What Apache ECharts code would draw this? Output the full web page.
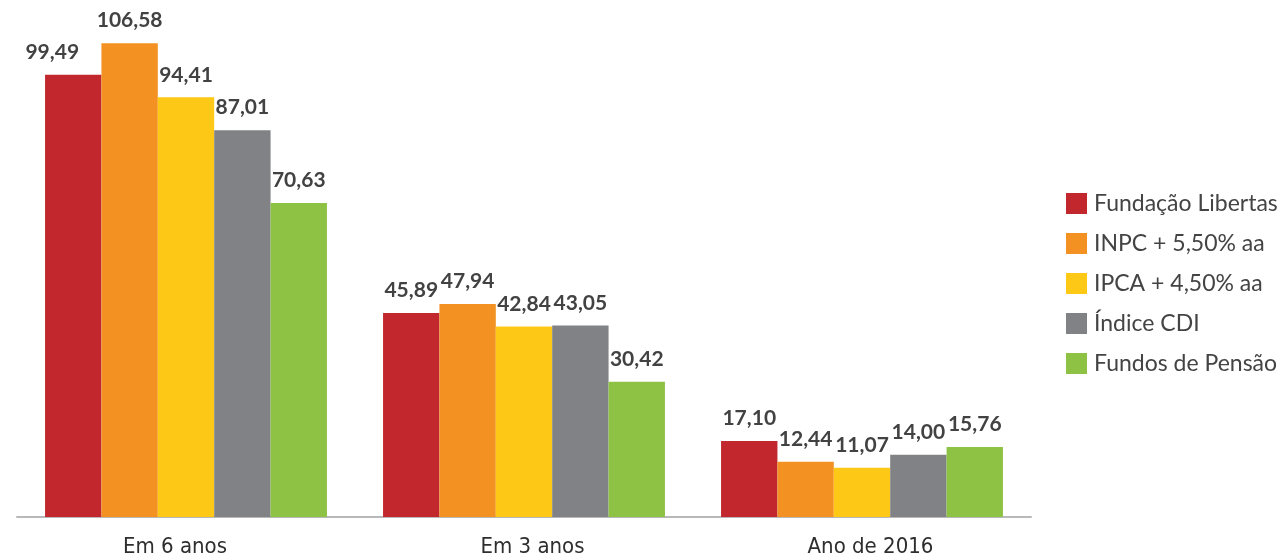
<!DOCTYPE html>
<html>
<head>
<meta charset="utf-8">
<script src="https://cdn.jsdelivr.net/npm/echarts@6/dist/echarts.min.js"></script>
<style>
  html, body { margin: 0; padding: 0; background: #fff; }
  #chart { width: 1288px; height: 558px; }
</style>
</head>
<body>
<div id="chart"></div>
<script>
const categories = ['Em 6 anos', 'Em 3 anos', 'Ano de 2016'];
const seriesNames = ['Fundação Libertas', 'INPC + 5,50% aa', 'IPCA + 4,50% aa', 'Índice CDI', 'Fundos de Pensão'];
const libertas = [99.49, 45.89, 17.10];
const inpc = [106.58, 47.94, 12.44];
const ipca = [94.41, 42.84, 11.07];
const cdi = [87.01, 43.05, 14.00];
const pensao = [70.63, 30.42, 15.76];
const colors = ['#c1272d', '#f39223', '#fdc816', '#808285', '#8dc245'];

const allValues = [libertas, inpc, ipca, cdi, pensao];

const myChart = echarts.init(document.getElementById('chart'));

const series = allValues.map((vals, i) => ({
  name: seriesNames[i],
  type: 'bar',
  // first label is nudged left in the original, to clear the taller orange one
  data: vals.map((v, j) => (i === 0 && j === 0) ? { value: v, label: { offset: [-21, 0] } } : v),
  barGap: 0,
  barCategoryGap: '16.6%',
  itemStyle: { color: colors[i] },
  label: {
    show: true,
    position: 'top',
    distance: 12,
    color: '#424242',
    fontFamily: 'Lato',
    fontWeight: 'bold',
    fontSize: 21,
    formatter: p => p.value.toFixed(2).replace('.', ',')
  }
}));

// category labels sit a bit off-centre in the original
const catRich = {
  l: { fontFamily: 'DejaVu Sans Condensed', fontSize: 22, color: '#2e2e2e', padding: [0, 22, 0, 0] },
  r: { fontFamily: 'DejaVu Sans Condensed', fontSize: 22, color: '#2e2e2e', padding: [0, 0, 0, 17] }
};

myChart.setOption({
  animation: false,
  color: colors,
  grid: { left: 17, right: 257, top: 28, bottom: 40 },
  legend: {
    orient: 'vertical',
    left: 1061,
    top: 187,
    itemWidth: 21,
    itemHeight: 21,
    itemGap: 17,
    icon: 'rect',
    textStyle: { fontFamily: 'Lato', fontSize: 23, color: '#444', padding: [0, 0, 0, 2] },
    data: seriesNames
  },
  xAxis: {
    type: 'category',
    data: categories,
    axisLine: { lineStyle: { color: '#b8b8ba', width: 2 } },
    axisTick: { show: false },
    axisLabel: {
      margin: 19,
      formatter: (val, idx) => idx === 0 ? '{l|' + val + '}' : '{r|' + val + '}',
      rich: catRich
    }
  },
  yAxis: {
    type: 'value',
    min: 0,
    max: 110,
    show: false,
    splitLine: { show: false }
  },
  series: series
});
</script>
</body>
</html>
